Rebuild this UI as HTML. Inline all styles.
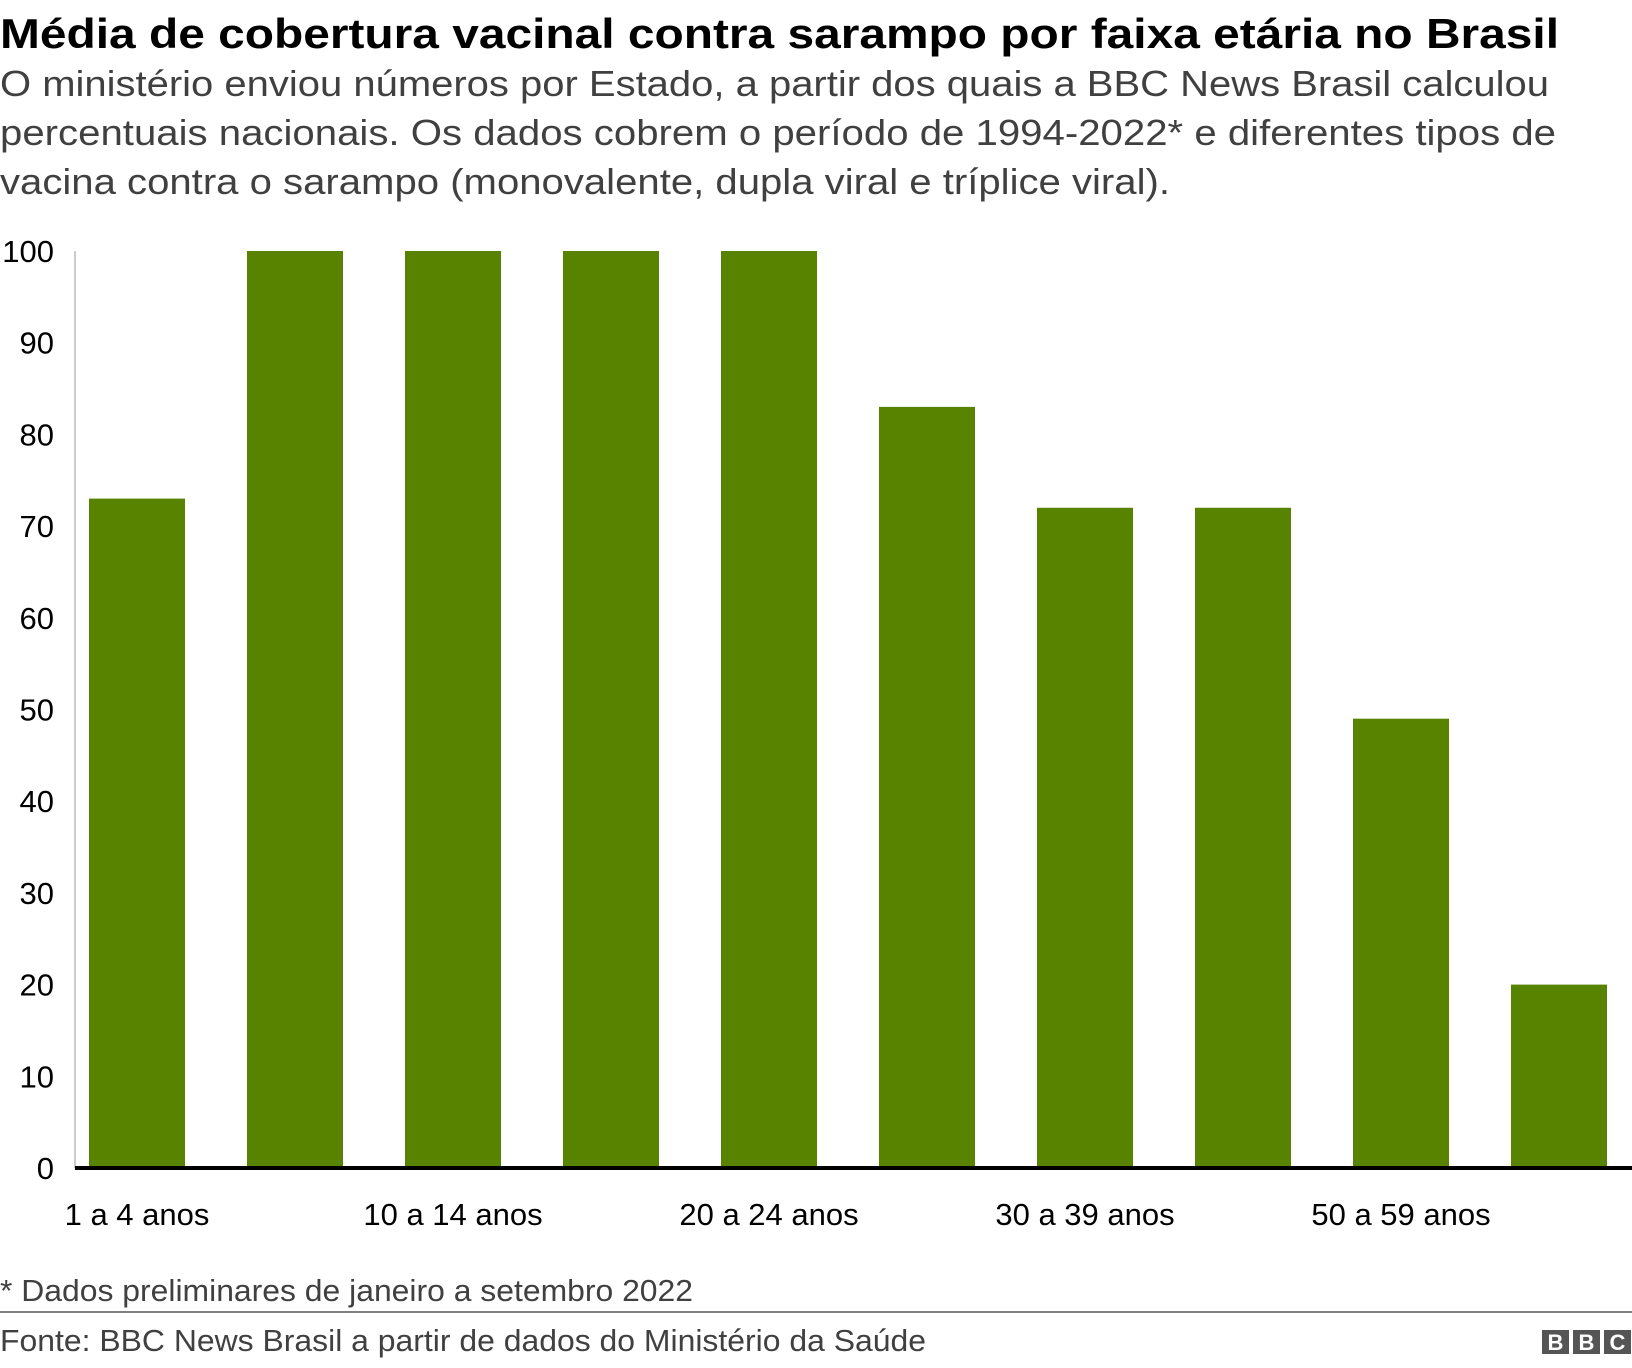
<!DOCTYPE html>
<html><head><meta charset="utf-8"><style>
html,body{margin:0;padding:0;background:#fff;}
svg{display:block;font-family:"Liberation Sans",Arial,sans-serif;}
</style></head><body>
<svg id="chart" width="1632" height="1368" viewBox="0 0 1632 1368" xmlns="http://www.w3.org/2000/svg">
<text x="0" y="48" font-size="42" font-weight="bold" fill="#000" textLength="1559" lengthAdjust="spacingAndGlyphs">Média de cobertura vacinal contra sarampo por faixa etária no Brasil</text>
<g font-size="36" fill="#404040">
<text x="0" y="96" textLength="1549" lengthAdjust="spacingAndGlyphs">O ministério enviou números por Estado, a partir dos quais a BBC News Brasil calculou</text>
<text x="0" y="145" textLength="1556" lengthAdjust="spacingAndGlyphs">percentuais nacionais. Os dados cobrem o período de 1994-2022* e diferentes tipos de</text>
<text x="0" y="194" textLength="1170" lengthAdjust="spacingAndGlyphs">vacina contra o sarampo (monovalente, dupla viral e tríplice viral).</text>
</g>
<line x1="75" y1="251" x2="75" y2="1168" stroke="#cccccc" stroke-width="2"/>
<g id="yticks"></g>
<g id="bars"></g>
<line x1="75" y1="1168" x2="1632" y2="1168" stroke="#000" stroke-width="4"/>
<g id="xlabels"></g>
<text x="0" y="1301" font-size="31" fill="#404040" textLength="693" lengthAdjust="spacingAndGlyphs">* Dados preliminares de janeiro a setembro 2022</text>
<line x1="0" y1="1312" x2="1632" y2="1312" stroke="#7f7f7f" stroke-width="2"/>
<text x="0" y="1351" font-size="31" fill="#404040" textLength="926" lengthAdjust="spacingAndGlyphs">Fonte: BBC News Brasil a partir de dados do Ministério da Saúde</text>
<g>
<rect x="1542" y="1330" width="27" height="24" fill="#555"/>
<rect x="1573" y="1330" width="27" height="24" fill="#555"/>
<rect x="1604" y="1330" width="27" height="24" fill="#555"/>
<text x="1555.5" y="1350" font-size="22" font-weight="bold" fill="#fff" text-anchor="middle">B</text>
<text x="1586.5" y="1350" font-size="22" font-weight="bold" fill="#fff" text-anchor="middle">B</text>
<text x="1617.5" y="1350" font-size="22" font-weight="bold" fill="#fff" text-anchor="middle">C</text>
</g>
</svg>
<script>
const categories = ["1 a 4 anos","5 a 9 anos","10 a 14 anos","15 a 19 anos","20 a 24 anos","25 a 29 anos","30 a 39 anos","40 a 49 anos","50 a 59 anos","60 anos ou mais"];
const values = [73,100,100,100,100,83,72,72,49,20];
const yTicks = [0,10,20,30,40,50,60,70,80,90,100];
const shownLabels = ["1 a 4 anos","10 a 14 anos","20 a 24 anos","30 a 39 anos","50 a 59 anos"];

const NS = "http://www.w3.org/2000/svg";
const y0 = 1168, y100 = 251;
function yScale(v){ return y0 - (v/100)*(y0-y100); }
const firstX = 89, step = 158, barW = 96;
function xScale(i){ return firstX + i*step; }

const yg = document.getElementById('yticks');
yTicks.forEach(t=>{
  const tx = document.createElementNS(NS,'text');
  
  
  tx.setAttribute('x', 54);
  tx.setAttribute('y', yScale(t)+11);
  tx.setAttribute('text-anchor','end');
  tx.setAttribute('font-size','31');
  tx.setAttribute('fill','#000');
  tx.textContent = t;
  yg.appendChild(tx);
});

const bg = document.getElementById('bars');
values.forEach((v,i)=>{
  const r = document.createElementNS(NS,'rect');
  
  
  r.setAttribute('x', xScale(i));
  r.setAttribute('y', yScale(v));
  r.setAttribute('width', barW);
  r.setAttribute('height', y0 - yScale(v));
  r.setAttribute('fill','#588300');
  bg.appendChild(r);
});

const xg = document.getElementById('xlabels');
categories.forEach((c,i)=>{
  if(shownLabels.indexOf(c)<0) return;
  const tx = document.createElementNS(NS,'text');
  
  
  tx.setAttribute('x', xScale(i)+barW/2);
  tx.setAttribute('y', 1225);
  tx.setAttribute('text-anchor','middle');
  tx.setAttribute('font-size','31');
  tx.setAttribute('fill','#000');
  tx.textContent = c;
  xg.appendChild(tx);
});
</script>
</body></html>
